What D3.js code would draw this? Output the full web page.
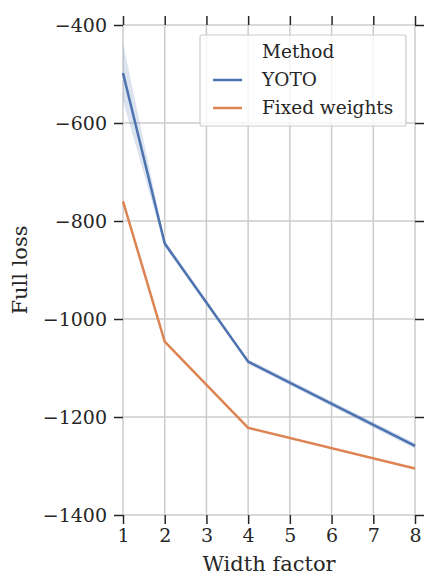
<!DOCTYPE html>
<html><head><meta charset="utf-8">
<script src="https://cdn.jsdelivr.net/npm/d3@7"></script>
<style>body{margin:0;background:#fff}svg{display:block}text{font-family:"DejaVu Serif",serif;fill:#262626}</style>
</head><body><div id="chart"></div>
<script>
const widths = [1, 2, 4, 8];
const yotoMean = [-498, -846, -1087, -1259];
const yotoLow  = [-555, -852, -1092, -1265];
const yotoHigh = [-437, -840, -1082, -1253];
const fixedMean = [-760, -1046, -1222, -1305];
const xTicks = [1, 2, 3, 4, 5, 6, 7, 8];
const yTicks = [-1400, -1200, -1000, -800, -600, -400];
const seriesNames = ["YOTO", "Fixed weights"];
const colors = ["#4c72b0", "#dd8452"];

const W = 427, H = 577;
const m = {left: 123, right: 12, top: 25, bottom: 62};
const svg = d3.select("#chart").append("svg").attr("width", W).attr("height", H);
const x = d3.scaleLinear().domain([1, 8]).range([m.left, W - m.right]);
const y = d3.scaleLinear().domain([-1400, -400]).range([H - m.bottom, m.top]);

// grid
const g = svg.append("g");
g.selectAll(".vg").data(xTicks).join("line")
  .attr("x1", d => x(d)).attr("x2", d => x(d)).attr("y1", y(-400)).attr("y2", y(-1400))
  .attr("stroke", "#cccccc").attr("stroke-width", 1.5);
g.selectAll(".hg").data(yTicks).join("line")
  .attr("y1", d => y(d)).attr("y2", d => y(d)).attr("x1", x(1)).attr("x2", x(8))
  .attr("stroke", "#cccccc").attr("stroke-width", 1.5);

// axes
function styleAxis(sel) {
  sel.select(".domain").remove();
  sel.selectAll(".tick line").attr("stroke", "#262626").attr("stroke-width", 1.5);
  sel.selectAll(".tick text").style("font-size", "19px").attr("fill", "#262626");
}
const fmt = d => d3.format("")(d).replace("-", "\u2212");
svg.append("g").attr("transform", `translate(${m.left},0)`)
  .call(d3.axisLeft(y).tickValues(yTicks).tickSize(9).tickPadding(7).tickFormat(fmt)).call(styleAxis);
svg.append("g").attr("transform", `translate(${W - m.right},0)`)
  .call(d3.axisRight(y).tickValues(yTicks).tickSize(9).tickFormat("")).call(styleAxis);
svg.append("g").attr("transform", `translate(0,${H - m.bottom})`)
  .call(d3.axisBottom(x).tickValues(xTicks).tickSize(9).tickPadding(5).tickFormat(d3.format("d"))).call(styleAxis);
svg.append("g").attr("transform", `translate(0,${m.top})`)
  .call(d3.axisTop(x).tickValues(xTicks).tickSize(9).tickFormat("")).call(styleAxis);

// band
const band = d3.area().x((d, i) => x(widths[i])).y0((d, i) => y(yotoLow[i])).y1((d, i) => y(yotoHigh[i]));
svg.append("path").datum(yotoMean).attr("d", band).attr("fill", colors[0]).attr("fill-opacity", 0.2);

const line = d3.line().x((d, i) => x(widths[i])).y(d => y(d));
[yotoMean, fixedMean].forEach((s, k) => {
  svg.append("path").datum(s).attr("d", line).attr("fill", "none")
    .attr("stroke", colors[k]).attr("stroke-width", 2.5).attr("stroke-linejoin", "round");
});

// labels
svg.append("text").attr("x", x(4.5)).attr("y", 571).attr("text-anchor", "middle")
  .style("font-size", "21px").text("Width factor");
svg.append("text").attr("transform", `translate(27,${y(-900)}) rotate(-90)`).attr("text-anchor", "middle")
  .style("font-size", "21px").text("Full loss");

// legend
const lg = svg.append("g");
lg.append("rect").attr("x", 200).attr("y", 35).attr("width", 206).attr("height", 91)
  .attr("fill", "#fff").attr("fill-opacity", 0.8).attr("stroke", "#cccccc").attr("stroke-width", 1.2).attr("rx", 2);
lg.append("text").attr("x", 262).attr("y", 58).style("font-size", "18.5px").attr("fill", "#333").text("Method");
seriesNames.forEach((n, k) => {
  const yy = 80 + k * 28;
  lg.append("line").attr("x1", 213).attr("x2", 242).attr("y1", yy).attr("y2", yy)
    .attr("stroke", colors[k]).attr("stroke-width", 2.5);
  lg.append("text").attr("x", 262).attr("y", yy + 6).style("font-size", "18.5px").attr("fill", "#333").text(n);
});
</script></body></html>
